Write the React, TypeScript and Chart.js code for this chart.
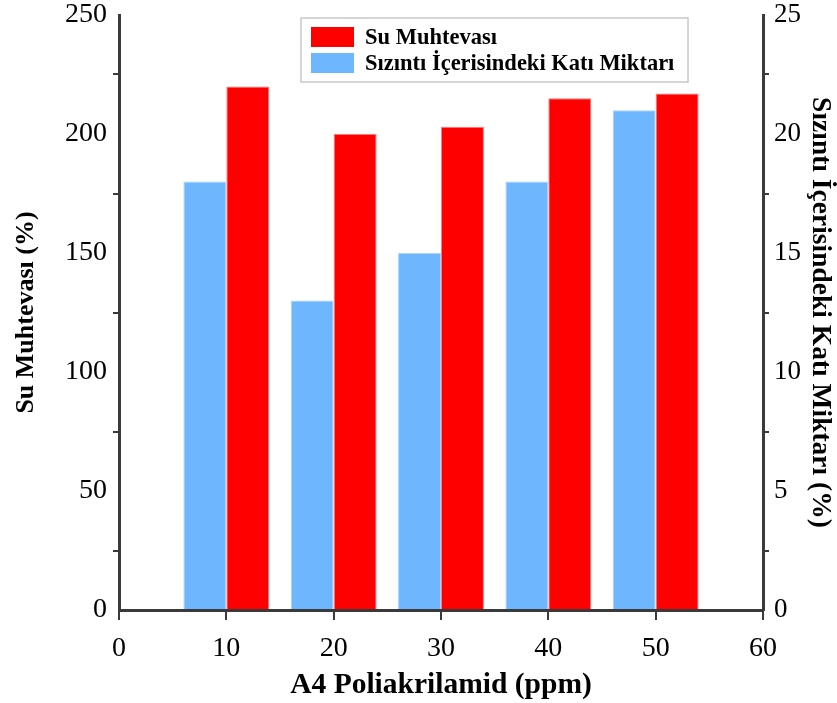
import React, { useEffect, useRef } from "react";
import { Chart, registerables } from "chart.js";

Chart.register(...registerables);

const xValues = [10, 20, 30, 40, 50];
const suMuhtevasi = [220, 200, 203, 215, 217];
const sizintiKati = [18, 13, 15, 18, 21];
const xTicks = [0, 10, 20, 30, 40, 50, 60];

const labelSu = "Su Muhtevası";
const labelSizinti = "Sızıntı İçerisindeki Katı Miktarı";
const xTitle = "A4 Poliakrilamid (ppm)";
const yLeftTitle = "Su Muhtevası (%)";
const yRightTitle = "Sızıntı İçerisindeki Katı Miktarı (%)";

const SERIF = "'Liberation Serif', 'Times New Roman', serif";
const AXIS = "#3a3a3a";
const RED = "#ff0000";
const BLUE = "#6eb6fd";

const boxLegend = {
  id: "boxLegend",
  afterDraw(chart: any) {
    const { ctx, chartArea } = chart;
    const x0 = chartArea.left + 182;
    const y0 = chartArea.top + 3;
    const w = 387;
    const h = 64;
    ctx.save();
    ctx.fillStyle = "#ffffff";
    ctx.fillRect(x0, y0, w, h);
    ctx.strokeStyle = "#c8c8c8";
    ctx.lineWidth = 1.5;
    ctx.strokeRect(x0, y0, w, h);
    const order = [1, 0];
    ctx.font = `bold 22.5px ${SERIF}`;
    ctx.textBaseline = "middle";
    ctx.textAlign = "left";
    order.forEach((di, row) => {
      const ds = chart.data.datasets[di];
      const sy = y0 + 9 + row * 26;
      ctx.fillStyle = ds.backgroundColor;
      ctx.fillRect(x0 + 10, sy, 43, 20);
      ctx.fillStyle = "#000000";
      ctx.fillText(ds.label, x0 + 64, sy + 11);
    });
    ctx.restore();
  },
};

export default function App() {
  const ref = useRef<HTMLCanvasElement | null>(null);

  useEffect(() => {
    document.body.style.margin = "0";
    const canvas = ref.current;
    if (!canvas) return;
    const chart = new Chart(canvas, {
      type: "bar",
      data: {
        datasets: [
          {
            label: labelSizinti,
            data: xValues.map((x, i) => ({ x, y: sizintiKati[i] })),
            backgroundColor: BLUE,
            borderColor: "#a9d3fb",
            borderWidth: 1,
            yAxisID: "y2",
          },
          {
            label: labelSu,
            data: xValues.map((x, i) => ({ x, y: suMuhtevasi[i] })),
            backgroundColor: RED,
            borderColor: "#ff7a7a",
            borderWidth: 1,
            yAxisID: "y",
          },
        ],
      },
      options: {
        responsive: false,
        animation: false,
        categoryPercentage: 0.8,
        barPercentage: 1.0,
        layout: { padding: { top: 15, left: 0, right: 0, bottom: 0 } },
        plugins: {
          legend: { display: false },
          tooltip: { enabled: false },
        },
        scales: {
          x: {
            type: "linear",
            min: 0,
            max: 60,
            offset: false,
            afterBuildTicks: (s: any) => {
              s.ticks = xTicks.map((v) => ({ value: v }));
            },
            afterFit: (s: any) => {
              s.height = 93;
            },
            border: { color: AXIS, width: 3 },
            grid: {
              offset: false,
              drawOnChartArea: false,
              drawTicks: true,
              tickLength: 10,
              color: AXIS,
              lineWidth: 2,
            },
            ticks: {
              color: "#000",
              font: { family: SERIF, size: 28 },
              padding: 12,
              maxRotation: 0,
              autoSkip: false,
            },
            title: {
              display: true,
              text: xTitle,
              color: "#000",
              font: { family: SERIF, size: 29.5, weight: "bold" },
              padding: { top: 0, bottom: 0 },
            },
          },
          y: {
            position: "left",
            min: 0,
            max: 250,
            afterBuildTicks: (s: any) => {
              const t = [];
              for (let v = 0; v <= 250; v += 25) t.push({ value: v });
              s.ticks = t;
            },
            afterFit: (s: any) => {
              s.width = 119;
            },
            border: { color: AXIS, width: 3 },
            grid: {
              drawOnChartArea: false,
              drawTicks: true,
              tickLength: 6,
              lineWidth: 2,
              color: (c: any) =>
                c.tick && c.tick.value % 50 === 25 ? AXIS : "rgba(0,0,0,0)",
            },
            ticks: {
              color: "#000",
              font: { family: SERIF, size: 28, lineHeight: 0.6 },
              padding: 6,
              autoSkip: false,
              callback: (v: any) => (Number(v) % 50 === 0 ? String(v) : ""),
            },
            title: {
              display: true,
              text: yLeftTitle,
              color: "#000",
              font: { family: SERIF, size: 26, weight: "bold" },
              padding: { top: 11, bottom: 0 },
            },
          },
          y2: {
            position: "right",
            min: 0,
            max: 25,
            afterBuildTicks: (s: any) => {
              const t = [];
              for (let v = 0; v <= 25; v += 2.5) t.push({ value: v });
              s.ticks = t;
            },
            afterFit: (s: any) => {
              s.width = 74;
            },
            border: { color: AXIS, width: 3 },
            grid: {
              drawOnChartArea: false,
              drawTicks: true,
              tickLength: 6,
              lineWidth: 2,
              color: (c: any) =>
                c.tick && c.tick.value % 5 === 2.5 ? AXIS : "rgba(0,0,0,0)",
            },
            ticks: {
              color: "#000",
              font: { family: SERIF, size: 27, lineHeight: 0.6 },
              padding: 5,
              autoSkip: false,
              callback: (v: any) => (Number(v) % 5 === 0 ? String(v) : ""),
            },
            title: {
              display: true,
              text: yRightTitle,
              color: "#000",
              font: { family: SERIF, size: 27.5, weight: "bold" },
              padding: { top: 0, bottom: 0 },
            },
          },
        },
      },
      plugins: [boxLegend],
    });
    return () => chart.destroy();
  }, []);

  return (
    <div style={{ position: "fixed", left: 0, top: 0, width: 837, height: 703, background: "#fff" }}>
      <canvas ref={ref} width={837} height={703} style={{ display: "block" }} />
    </div>
  );
}
